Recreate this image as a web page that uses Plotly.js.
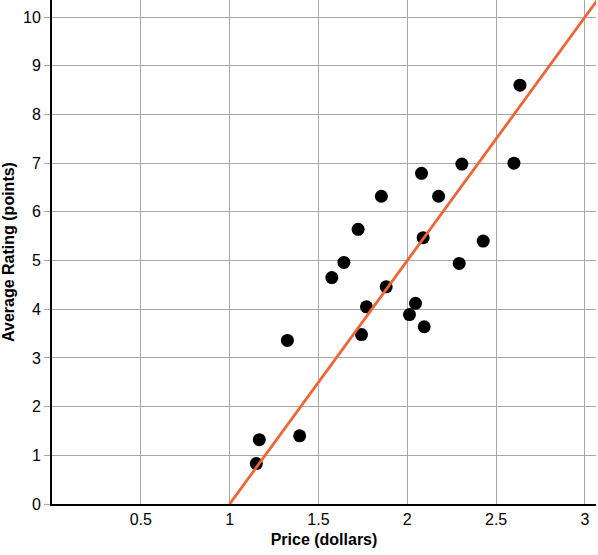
<!DOCTYPE html>
<html>
<head>
<meta charset="utf-8">
<script src="https://cdn.plot.ly/plotly-3.0.1.min.js"></script>
<style>
  html, body { margin: 0; padding: 0; background: #fff; }
  #chart { width: 598px; height: 555px; }
</style>
</head>
<body>
<div id="chart"></div>
<script>
// 价格与平均评分 散点数据
const priceDollars = [1.150, 1.167, 1.394, 1.325, 1.575, 1.643, 1.723, 1.854, 1.881, 1.770, 1.742,
                      2.046, 2.012, 2.095, 2.089, 2.080, 2.176, 2.307, 2.292, 2.427, 2.600, 2.634];
const avgRating = [0.83, 1.32, 1.40, 3.36, 4.65, 4.96, 5.64, 6.32, 4.46, 4.05, 3.48,
                   4.12, 3.89, 3.64, 5.47, 6.79, 6.32, 6.98, 4.94, 5.40, 7.00, 8.60];

// 趋势线端点
const trendX = [1, 3.1];
const trendY = [0, 10.5];

// 刻度
const xTickVals = [0.5, 1, 1.5, 2, 2.5, 3];
const xTickText = ['0.5', '1', '1.5', '2', '2.5', '3'];
const yTickVals = [0, 1, 2, 3, 4, 5, 6, 7, 8, 9, 10];

const data = [
    {
        type: 'scatter',
        mode: 'markers',
        x: priceDollars,
        y: avgRating,
        marker: { color: '#000000', size: 13, line: { width: 0 } },
        hoverinfo: 'x+y'
    },
    {
        type: 'scatter',
        mode: 'lines',
        x: trendX,
        y: trendY,
        line: { color: '#EE6537', width: 2.8 },
        hoverinfo: 'skip'
    }
];

const layout = {
    width: 598,
    height: 555,
    showlegend: false,
    paper_bgcolor: '#ffffff',
    plot_bgcolor: '#ffffff',
    font: { family: 'Liberation Sans, Arial, sans-serif', size: 16, color: '#000' },
    margin: { l: 52, r: 2, t: 0, b: 51, pad: 0 },
    xaxis: {
        range: [0, 3.062],
        tickmode: 'array',
        tickvals: xTickVals,
        ticktext: xTickText,
        showgrid: true,
        gridcolor: '#a8a8a8',
        gridwidth: 1,
        zeroline: false,
        showline: true,
        linecolor: '#000',
        linewidth: 2,
        ticks: '',
        tickfont: { size: 16 },
        title: {
            text: '<b>Price (dollars)</b>',
            font: { size: 16 },
            standoff: 7
        }
    },
    yaxis: {
        range: [0, 10.35],
        tickmode: 'array',
        tickvals: yTickVals,
        showgrid: true,
        gridcolor: '#a8a8a8',
        gridwidth: 1,
        zeroline: false,
        showline: true,
        linecolor: '#000',
        linewidth: 2,
        ticks: 'outside',
        ticklen: 6,
        tickcolor: '#a8a8a8',
        tickwidth: 1,
        tickfont: { size: 16 },
        title: {
            text: '<b>Average Rating (points)</b>',
            font: { size: 16 },
            standoff: 7
        }
    }
};

Plotly.newPlot('chart', data, layout, { displayModeBar: false, staticPlot: true });
</script>
</body>
</html>
